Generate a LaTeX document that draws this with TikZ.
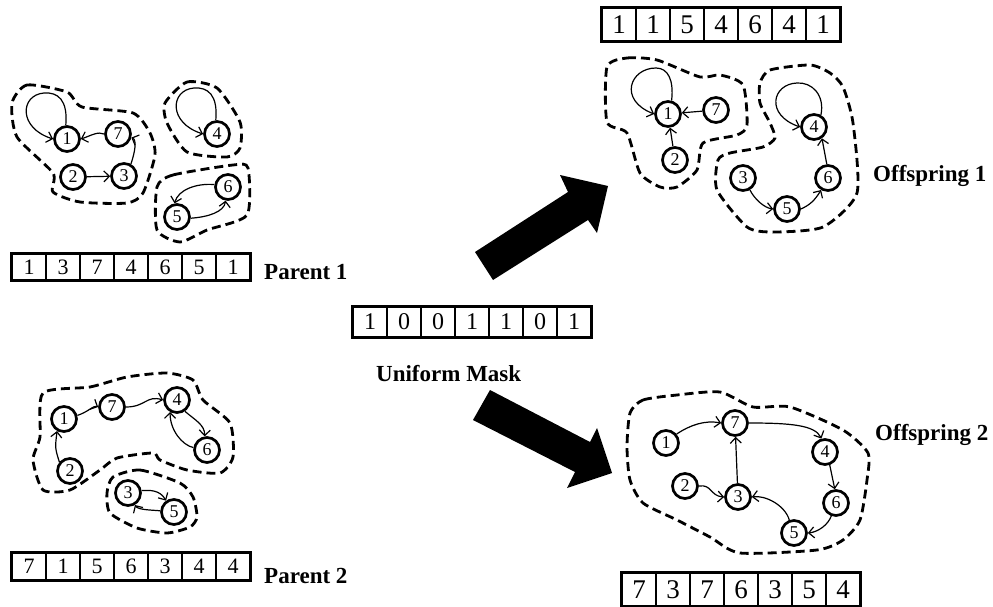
\documentclass[tikz,border=0pt]{standalone}
\usepackage{fontspec}
\setmainfont{Liberation Serif}
\usetikzlibrary{arrows.meta}
\tikzset{
  gnode/.style={circle,draw,line width=2.7pt,minimum size=25pt,inner sep=0pt,font=\fontsize{18}{18}\selectfont},
  edge/.style={line width=1.2pt,-{Straight Barb[length=5.5pt,width=11pt]}},
  blob/.style={line width=2.8pt,dash pattern=on 9pt off 5pt},
  cell/.style={draw,line width=1.7pt,minimum width=34pt,inner sep=0pt},
  frame/.style={line width=3pt},
  lbl/.style={font=\fontsize{23}{23}\selectfont\bfseries,anchor=base west,inner sep=0pt},
  bigarrow/.style={fill=black}
}
\begin{document}
\begin{tikzpicture}[x=1pt,y=-1pt]
\useasboundingbox (0,0) rectangle (993,607);

% ---------------- Parent 1 ----------------
\node[gnode] (a1) at (67,139) {1};
\node[gnode] (a7) at (118,134) {7};
\node[gnode] (a2) at (73,177) {2};
\node[gnode] (a3) at (124,176) {3};
\node[gnode] (a4) at (217,134) {4};
\node[gnode] (a6) at (228,187) {6};
\node[gnode] (a5) at (177,217) {5};
\draw[edge] (a1.95) .. controls (68,100) and (58,92) .. (44,93) .. controls (20,95) and (18,128) .. (a1.west);
\draw[edge] (a7.west) .. controls (98,131) and (90,136) .. (a1.east);
\draw[edge] (a2) -- (a3);
\draw[edge] (a3.60) .. controls (135,152) and (137,140) .. (a7.-15);
\draw[edge] (a4.95) .. controls (218,95) and (208,87) .. (194,88) .. controls (170,90) and (168,123) .. (a4.west);
\draw[edge] (a6.170) .. controls (196,183) and (178,190) .. (a5.100);
\draw[edge] (a5.-5) .. controls (208,217) and (224,212) .. (a6.-100);
\draw[blob] plot[smooth cycle,tension=0.4] coordinates {(12,103) (27,85) (67,92) (82,107) (133,113) (150,133) (155,155) (143,193) (127,203) (80,202) (53,192) (53,173) (17,137)};
\draw[blob] plot[smooth cycle,tension=0.4] coordinates {(165,103) (187,82) (217,88) (240,122) (240,148) (227,157) (187,152) (167,123)};
\draw[blob] plot[smooth cycle,tension=0.4] coordinates {(157,187) (173,175) (233,165) (248,168) (247,215) (207,230) (180,242) (157,230)};

\foreach \v [count=\i] in {1,3,7,4,6,5,1}
  \node[cell,minimum height=26pt,font=\fontsize{22}{22}\selectfont] (pa\i) at ({34*\i-5},267) {\v};
\draw[frame] (pa1.north west) rectangle (pa7.south east);
\node[lbl] (lp1) at (264,279) {Parent 1};

% ---------------- Parent 2 ----------------
\node[gnode] (b1) at (64,419) {1};
\node[gnode] (b7) at (112,407) {7};
\node[gnode] (b4) at (177,400) {4};
\node[gnode] (b6) at (207,450) {6};
\node[gnode] (b2) at (70,471) {2};
\node[gnode] (b3) at (128,493) {3};
\node[gnode] (b5) at (174,512) {5};
\draw[edge] (b2.140) .. controls (55,448) .. (b1.-120);
\draw[edge] (b1.15) .. controls (88,412) and (94,405) .. (b7.west);
\draw[edge] (b7.east) .. controls (146,407) and (146,395) .. (b4.west);
\draw[edge] (b4.-55) .. controls (195,420) and (205,425) .. (b6.100);
\draw[edge] (b6.170) .. controls (182,445) and (170,430) .. (b4.-120);
\draw[edge] (b3.10) .. controls (150,490) and (160,490) .. (b5.125);
\draw[edge] (b5.175) .. controls (152,510) and (138,510) .. (b3.-60);
\draw[blob] plot[smooth cycle,tension=0.4] coordinates {(43,393) (90,387) (127,377) (167,373) (193,380) (203,400) (230,423) (233,457) (220,473) (187,470) (160,460) (153,453) (117,458) (100,470) (70,490) (43,490) (33,460) (40,437)};
\draw[blob] plot[smooth cycle,tension=0.4] coordinates {(113,477) (140,470) (180,483) (193,497) (197,517) (190,527) (167,533) (137,528) (110,513) (107,493)};

\foreach \v [count=\i] in {7,1,5,6,3,4,4}
  \node[cell,minimum height=27pt,font=\fontsize{22}{22}\selectfont] (pb\i) at ({34*\i-5},566.5) {\v};
\draw[frame] (pb1.north west) rectangle (pb7.south east);
\node[lbl] (lp2) at (264,583) {Parent 2};

% ---------------- Mask ----------------
\foreach \v [count=\i] in {1,0,0,1,1,0,1}
  \node[cell,minimum height=30pt,font=\fontsize{24}{24}\selectfont] (m\i) at ({336+34*\i},322) {\v};
\draw[frame] (m1.north west) rectangle (m7.south east);
\node[lbl] (lm) at (376,381) {Uniform Mask};

% ---------------- Big arrows ----------------
\fill[bigarrow] (475,252) -- (568,192) -- (560,175) -- (608,186) -- (597,233) -- (588,220) -- (493,280) -- cycle;
\fill[bigarrow] (490,390) -- (590,442) -- (597,428) -- (612,473) -- (567,488) -- (575,472) -- (473,420) -- cycle;

% ---------------- Offspring 1 ----------------
\foreach \v [count=\i] in {1,1,5,4,6,4,1}
  \node[cell,minimum height=33pt,font=\fontsize{27}{27}\selectfont] (oa\i) at ({585+34*\i},24.5) {\v};
\draw[frame] (oa1.north west) rectangle (oa7.south east);

\node[gnode] (c1) at (668,114) {1};
\node[gnode] (c7) at (716,110) {7};
\node[gnode] (c2) at (675,160) {2};
\node[gnode] (c4) at (814,127) {4};
\node[gnode] (c3) at (743,178) {3};
\node[gnode] (c5) at (787,209) {5};
\node[gnode] (c6) at (828,178) {6};
\draw[edge] (c1.75) .. controls (674,80) and (668,68) .. (656,68) .. controls (630,68) and (618,100) .. (c1.west);
\draw[edge] (c7) -- (c1);
\draw[edge] (c2) -- (c1);
\draw[edge] (c4.60) .. controls (825,95) and (812,82) .. (797,83) .. controls (772,84) and (765,115) .. (c4.west);
\draw[edge] (c3.-60) .. controls (755,200) and (765,208) .. (c5.west);
\draw[edge] (c5.east) .. controls (810,205) and (815,200) .. (c6.-120);
\draw[edge] (c6.95) -- (c4.-55);
\draw[blob] plot[smooth cycle,tension=0.4] coordinates {(607,67) (627,58) (657,60) (700,77) (720,75) (743,85) (747,125) (737,135) (703,143) (697,170) (677,187) (660,187) (640,173) (627,133) (607,122)};
\draw[blob] plot[smooth cycle,tension=0.4] coordinates {(760,83) (770,70) (810,65) (830,73) (843,87) (853,123) (857,193) (823,227) (773,232) (747,227) (717,190) (718,160) (730,153) (763,147) (775,138) (770,123) (760,103)};
\node[lbl] (lo1) at (873,182) {Offspring 1};

% ---------------- Offspring 2 ----------------
\node[gnode] (d1) at (666,443) {1};
\node[gnode] (d7) at (735,423) {7};
\node[gnode] (d4) at (825,452) {4};
\node[gnode] (d2) at (685,486) {2};
\node[gnode] (d3) at (738,497) {3};
\node[gnode] (d6) at (836,503) {6};
\node[gnode] (d5) at (794,533) {5};
\draw[edge] (d1.40) .. controls (690,425) and (705,420) .. (d7.west);
\draw[edge] (d7.east) .. controls (790,423) and (815,425) .. (d4.105);
\draw[edge] (d4.-70) -- (d6.95);
\draw[edge] (d6.-110) .. controls (828,525) and (818,532) .. (d5.east);
\draw[edge] (d5.110) .. controls (785,505) and (765,495) .. (d3.east);
\draw[edge] (d3) -- (d7);
\draw[edge] (d2.east) .. controls (712,484) and (710,496) .. (d3.west);
\draw[blob] plot[smooth cycle,tension=0.4] coordinates {(630,413) (643,400) (677,395) (720,392) (753,407) (790,407) (843,430) (868,453) (867,480) (860,520) (843,540) (817,550) (740,553) (710,537) (677,520) (643,503) (630,480) (627,447)};
\node[lbl] (lo2) at (875,440) {Offspring 2};

\foreach \v [count=\i] in {7,3,7,6,3,5,4}
  \node[cell,minimum height=33pt,font=\fontsize{27}{27}\selectfont] (ob\i) at ({605+34*\i},589.5) {\v};
\draw[frame] (ob1.north west) rectangle (ob7.south east);
\end{tikzpicture}
\end{document}
